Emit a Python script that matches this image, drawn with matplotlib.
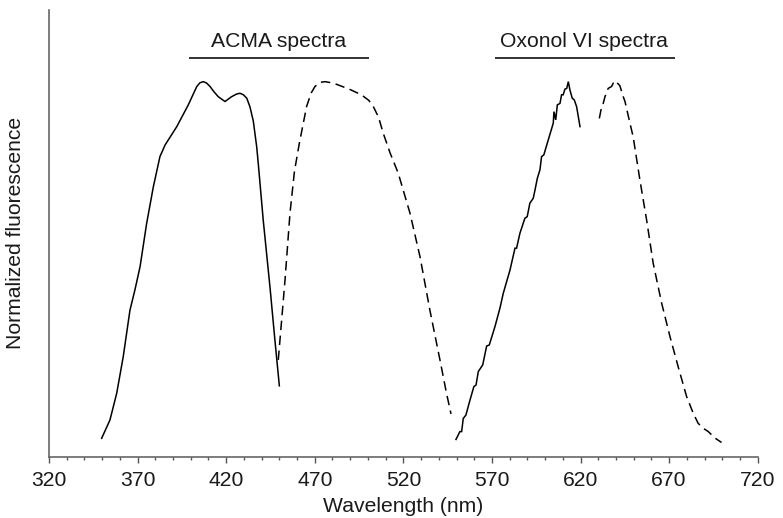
import matplotlib
matplotlib.use("Agg")
import matplotlib.pyplot as plt
from matplotlib.ticker import MultipleLocator

plt.rcParams['font.family'] = ['Liberation Sans', 'DejaVu Sans']

# ACMA excitation (solid)
acma_ex_nm = [349.7, 354.4, 358.2, 361.9, 365.7, 368.5, 371.4, 375.1, 378.9, 382.6, 385.5, 392.1, 398.6,
              403.4, 405.2, 407.1, 409.0, 410.9, 413.1, 415.5, 419.3, 423.1, 425.9, 427.8, 429.7, 431.6,
              433.4, 435.3, 437.2, 438.1, 440.9, 444.7, 447.5, 450.0]
acma_ex_v = [0.049, 0.098, 0.169, 0.267, 0.391, 0.445, 0.507, 0.622, 0.720, 0.800, 0.831, 0.880, 0.938,
             0.987, 0.997, 1.000, 0.996, 0.987, 0.973, 0.960, 0.947, 0.960, 0.967, 0.969, 0.965, 0.956,
             0.933, 0.895, 0.827, 0.782, 0.631, 0.453, 0.311, 0.189]

# ACMA emission (dashed)
acma_em_nm = [449.4, 453.2, 456.0, 458.5, 461.3, 465.4, 468.0, 470.1, 473.0, 475.8, 480.5, 485.0, 489.9,
              494.0, 497.4, 500.5, 503.0, 506.0, 508.6, 512.5, 517.1, 523.7, 529.4, 535.0, 540.7, 544.4,
              546.9]
acma_em_v = [0.258, 0.471, 0.649, 0.760, 0.836, 0.934, 0.970, 0.987, 0.998, 1.000, 0.996, 0.988, 0.979,
             0.970, 0.961, 0.950, 0.934, 0.905, 0.863, 0.810, 0.756, 0.650, 0.533, 0.390, 0.257, 0.168,
             0.114]

# Oxonol VI excitation (solid)
oxo_ex_nm = [549.7, 551.9, 552.9, 553.8, 555.3, 557.6, 559.8, 561.0, 562.3, 564.8, 567.0, 568.5, 571.7,
             574.5, 576.4, 580.2, 583.0, 583.9, 585.8, 588.6, 589.9, 591.4, 593.3, 594.3, 595.6, 597.1,
             598.0, 599.3, 601.8, 604.6, 605.0, 606.0, 606.9, 608.4, 609.3, 610.2, 611.2, 612.2, 613.1,
             614.0, 615.3, 616.5, 617.8, 619.7]
oxo_ex_v = [0.046, 0.067, 0.067, 0.102, 0.111, 0.151, 0.187, 0.191, 0.227, 0.245, 0.295, 0.298, 0.347,
            0.396, 0.436, 0.498, 0.556, 0.556, 0.596, 0.636, 0.640, 0.676, 0.689, 0.711, 0.742, 0.765,
            0.800, 0.805, 0.845, 0.889, 0.920, 0.898, 0.938, 0.942, 0.965, 0.965, 0.980, 0.982, 1.000,
            0.978, 0.956, 0.951, 0.933, 0.880]

# Oxonol VI emission (dashed)
oxo_em_nm = [630.6, 631.9, 632.8, 633.8, 635.6, 637.5, 638.5, 639.4, 640.4, 641.3, 642.2, 644.1, 645.1,
             647.9, 649.7, 653.5, 657.3, 661.0, 665.8, 670.5, 675.1, 679.9, 683.6, 686.4, 689.2, 692.1,
             695.8, 699.6]
oxo_em_v = [0.902, 0.933, 0.942, 0.960, 0.982, 0.987, 0.996, 0.991, 0.997, 0.994, 0.989, 0.960, 0.947,
            0.889, 0.853, 0.738, 0.631, 0.516, 0.409, 0.320, 0.240, 0.160, 0.116, 0.089, 0.076, 0.067,
            0.050, 0.038]

xticks = [320, 370, 420, 470, 520, 570, 620, 670, 720]
group_labels = ["ACMA spectra", "Oxonol VI spectra"]
group_spans = [(399.0, 500.6), (571.7, 673.3)]
group_text_x = [449.8, 622.0]

fig = plt.figure(figsize=(7.83, 5.18), dpi=100)
ax = fig.add_axes([0.0626, 0.1183, 0.9051, 0.8624])

lw = 1.1
dash = (0, (6.2, 3.6))
ax.plot(acma_ex_nm, acma_ex_v, color='black', lw=lw, solid_joinstyle='round')
ax.plot(acma_em_nm, acma_em_v, color='black', lw=lw, ls=dash)
ax.plot(oxo_ex_nm, oxo_ex_v, color='black', lw=lw, solid_joinstyle='miter')
ax.plot(oxo_em_nm, oxo_em_v, color='black', lw=lw, ls=dash)

fs = 15.2
for label, (x0, x1), tx in zip(group_labels, group_spans, group_text_x):
    ax.plot([x0, x1], [1.064, 1.064], color='#333333', lw=1.4, solid_capstyle='butt')
    ax.text(tx, 1.083, label, ha='center', va='bottom', fontsize=fs, color='#1a1a1a')

ax.set_xlim(320, 720)
ax.set_ylim(0, 1.191)
ax.set_xticks(xticks)
ax.xaxis.set_minor_locator(MultipleLocator(10))
ax.set_yticks([])
ax.tick_params(axis='x', which='major', direction='out', length=4, width=1, color='#555555',
               labelsize=fs, labelcolor='#1a1a1a', pad=6.5)
ax.tick_params(axis='x', which='minor', direction='out', length=2.5, width=1, color='#555555')

for s in ['top', 'right']:
    ax.spines[s].set_visible(False)
for s in ['left', 'bottom']:
    ax.spines[s].set_color('#666666')
    ax.spines[s].set_linewidth(1.2)

ax.set_xlabel('Wavelength (nm)', fontsize=fs, color='#1a1a1a', labelpad=5)
ax.set_ylabel('Normalized fluorescence', fontsize=fs, color='#1a1a1a', labelpad=17)

fig.savefig('out.png', dpi=100)
